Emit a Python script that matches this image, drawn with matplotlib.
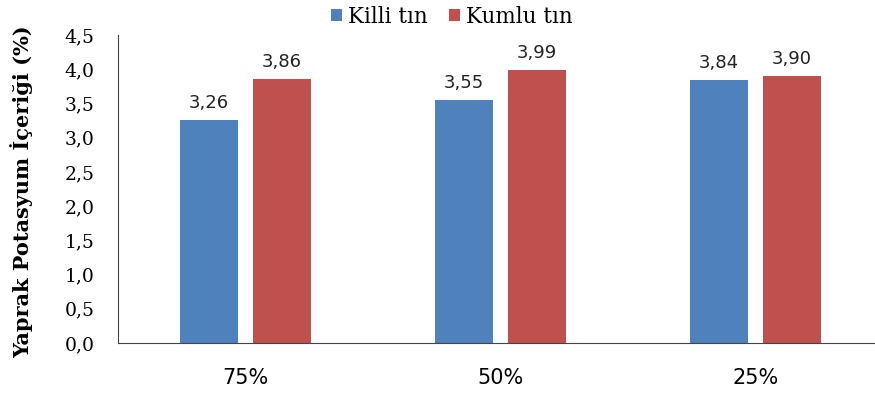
import numpy as np
import matplotlib
matplotlib.use('Agg')
import matplotlib.pyplot as plt

# data
categories = ['75%', '50%', '25%']
series_names = ['Killi tın', 'Kumlu tın']
killi = [3.26, 3.55, 3.84]
kumlu = [3.86, 3.99, 3.90]
colors = ['#4F81BD', '#C0504D']

sans = ['DejaVu Sans']
serif = ['DejaVu Serif']

fig = plt.figure(figsize=(8.75, 3.94), dpi=100)
# axes runs a little past the right edge like the original
ax = fig.add_axes([118 / 875, 1 - 343 / 394, 765 / 875, 308 / 394])

x = np.arange(len(categories))
width = 0.224
offset = 0.143

for vals, name, col, sign in [(killi, series_names[0], colors[0], -1),
                              (kumlu, series_names[1], colors[1], 1)]:
    bars = ax.bar(x + sign * offset, vals, width, color=col, label=name)
    for b, v in zip(bars, vals):
        ax.text(b.get_x() + b.get_width() / 2, v + 0.12, ('%.2f' % v).replace('.', ','),
                ha='center', va='bottom', fontsize=13, family=sans, color='#222222')

ax.set_xlim(-0.5, 2.5)
ax.set_ylim(0, 4.5)
yt = np.arange(0, 4.51, 0.5)
ax.set_yticks(yt)
ax.set_yticklabels([('%.1f' % t).replace('.', ',') for t in yt], family=serif, fontsize=13.5)
ax.set_xticks(x)
ax.set_xticklabels(categories, family=sans, fontsize=15)
ax.tick_params(axis='y', length=0, pad=17)
ax.tick_params(axis='x', length=0, pad=18)

for s in ['top', 'right']:
    ax.spines[s].set_visible(False)
ax.spines['left'].set_color('#444444')
ax.spines['bottom'].set_color('#444444')

ax.set_ylabel('Yaprak Potasyum İçeriği (%)', family=serif,
              fontweight='bold', fontsize=15)
ax.yaxis.set_label_coords(-(118 - 33) / 765, 0.49)

fig.legend(loc='upper center', bbox_to_anchor=(452 / 875, 1.035), ncol=2,
           frameon=False, prop={'family': serif, 'size': 15.5},
           handlelength=0.5, handleheight=0.5, handletextpad=0.3, columnspacing=1.0)

plt.savefig('out.png', dpi=100)
